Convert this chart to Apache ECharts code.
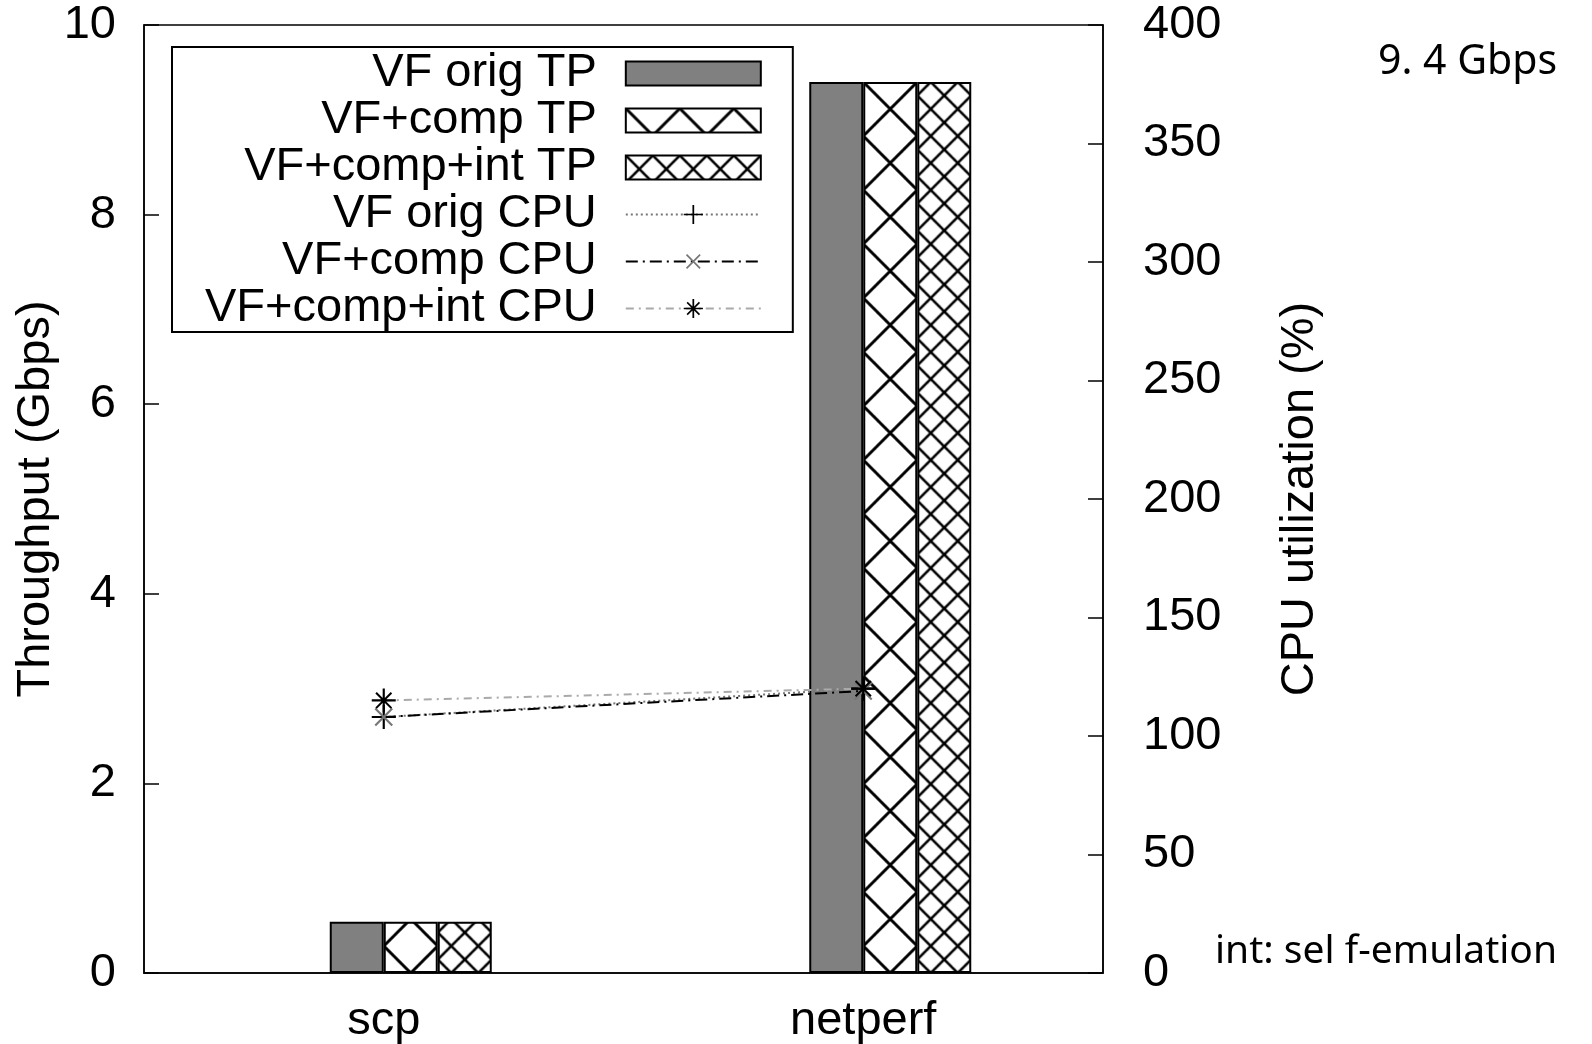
<!DOCTYPE html>
<html>
<head>
<meta charset="utf-8">
<script src="https://cdn.jsdelivr.net/npm/echarts@6/dist/echarts.min.js"></script>
<style>
html, body { margin: 0; padding: 0; background: #fff; }
#chart { width: 1592px; height: 1044px; }
</style>
</head>
<body>
<div id="chart"></div>
<script>
// x categories
var categories = ['scp', 'netperf'];

// throughput (Gbps), left axis
var origTP = [0.54, 9.4];
var compTP = [0.54, 9.4];
var compIntTP = [0.54, 9.4];

// CPU utilization (%), right axis
var origCPU = [108, 120];
var compCPU = [108, 119];
var compIntCPU = [115, 120];

// axis ranges
var tpAxis = {min: 0, max: 10, interval: 2};
var cpuAxis = {min: 0, max: 400, interval: 50};

var names = ['VF orig TP', 'VF+comp TP', 'VF+comp+int TP',
    'VF orig CPU', 'VF+comp CPU', 'VF+comp+int CPU'];

var FONT = '"Liberation Sans", Arial, sans-serif';
var BAR_W = 54;

// diagonal cross-hatch tile, like the gnuplot fill patterns
function hatch(size, lw)
{
    var c = document.createElement('canvas');
    c.width = size;
    c.height = size;
    var ctx = c.getContext('2d');
    ctx.fillStyle = '#fff';
    ctx.fillRect(0, 0, size, size);
    ctx.strokeStyle = '#000';
    ctx.lineWidth = lw;
    ctx.beginPath();
    for (var k = -1; k <= 1; k++)
    {
        ctx.moveTo(k * size, 0);
        ctx.lineTo(k * size + size, size);
        ctx.moveTo(k * size + size, 0);
        ctx.lineTo(k * size, size);
    }
    ctx.stroke();
    return c;
}

var img2 = hatch(BAR_W, 3);
var img3 = hatch(BAR_W / 2, 2.6);

var PLUS = 'path://M4.55,0H5.45V10H4.55ZM0,4.55H10V5.45H0Z';
var STAR = 'path://M4.55,0H5.45V10H4.55ZM0,4.55H10V5.45H0Z' +
    'M2.1,1.5L8.5,7.9L7.9,8.5L1.5,2.1ZM7.9,1.5L8.5,2.1L2.1,8.5L1.5,7.9Z';

var chart = echarts.init(document.getElementById('chart'));

var option = {
    animation: false,
    backgroundColor: '#fff',
    textStyle: {fontFamily: FONT, color: '#000'},
    grid: {
        left: 144, right: 489, top: 25, bottom: 71,
        outerBoundsMode: 'none',
        show: true, borderColor: '#000', borderWidth: 1.5,
        backgroundColor: 'transparent'
    },
    legend: {
        orient: 'vertical',
        left: 172, top: 47,
        align: 'right',
        selectedMode: false,
        itemWidth: 135, itemHeight: 24, itemGap: 0,
        padding: [3, 31, 0, 33],
        borderColor: '#000', borderWidth: 2,
        backgroundColor: '#fff',
        textStyle: {fontFamily: FONT, fontSize: 47, color: '#000', lineHeight: 47, padding: [0, 24, 0, 0]},
        data: [
            {name: names[0], icon: 'rect'},
            {name: names[1], icon: 'rect'},
            {name: names[2], icon: 'rect'},
            {name: names[3]},
            {name: names[4]},
            {name: names[5]}
        ]
    },
    xAxis: {
        type: 'category',
        data: categories,
        boundaryGap: true,
        axisLine: {lineStyle: {color: '#000', width: 1.5}},
        axisTick: {show: false},
        axisLabel: {fontFamily: FONT, fontSize: 47, color: '#000', margin: 25}
    },
    yAxis: [
        {
            type: 'value',
            min: tpAxis.min, max: tpAxis.max, interval: tpAxis.interval,
            name: 'Throughput (Gbps)',
            nameLocation: 'middle',
            nameGap: 84,
            nameMoveOverlap: false,
            nameTextStyle: {fontFamily: FONT, fontSize: 47, color: '#000'},
            axisLine: {show: true, lineStyle: {color: '#000', width: 1.5}},
            axisTick: {show: true, inside: true, length: 15, lineStyle: {color: '#000', width: 1.5}},
            axisLabel: {fontFamily: FONT, fontSize: 47, color: '#000', margin: 28},
            splitLine: {show: false}
        },
        {
            type: 'value',
            position: 'right',
            min: cpuAxis.min, max: cpuAxis.max, interval: cpuAxis.interval,
            name: 'CPU utilization (%)',
            nameLocation: 'middle',
            nameGap: 174,
            nameRotate: 90,
            nameMoveOverlap: false,
            nameTextStyle: {fontFamily: FONT, fontSize: 47, color: '#000'},
            axisLine: {show: true, lineStyle: {color: '#000', width: 1.5}},
            axisTick: {show: true, inside: true, length: 15, lineStyle: {color: '#000', width: 1.5}},
            axisLabel: {fontFamily: FONT, fontSize: 47, color: '#000', margin: 40},
            splitLine: {show: false}
        }
    ],
    series: [
        {
            // empty slot so the three bars start at the category centre
            id: 'pad', name: '_pad', type: 'bar', data: [],
            barWidth: BAR_W, barGap: '0%'
        },
        {
            id: 'origTP', name: names[0], type: 'bar', data: origTP,
            barWidth: BAR_W, barGap: '0%',
            itemStyle: {color: '#808080', borderColor: '#000', borderWidth: 2}
        },
        {
            id: 'compTP', name: names[1], type: 'bar', data: compTP,
            barWidth: BAR_W, barGap: '0%',
            itemStyle: {color: {image: img2, repeat: 'repeat'}, borderColor: '#000', borderWidth: 2}
        },
        {
            id: 'compIntTP', name: names[2], type: 'bar', data: compIntTP,
            barWidth: BAR_W, barGap: '0%',
            itemStyle: {color: {image: img3, repeat: 'repeat'}, borderColor: '#000', borderWidth: 2}
        },
        {
            id: 'origCPU', name: names[3], type: 'line', yAxisIndex: 1, data: origCPU,
            symbol: PLUS, symbolSize: 24,
            itemStyle: {color: '#000'},
            lineStyle: {color: '#777', width: 2, type: [2, 3]}
        },
        {
            id: 'compCPU', name: names[4], type: 'line', yAxisIndex: 1, data: compCPU,
            symbol: PLUS, symbolSize: 24, symbolRotate: 45,
            itemStyle: {color: '#777'},
            lineStyle: {color: '#000', width: 2, type: [12, 5, 2, 5]}
        },
        {
            id: 'compIntCPU', name: names[5], type: 'line', yAxisIndex: 1, data: compIntCPU,
            symbol: STAR, symbolSize: 24,
            itemStyle: {color: '#000'},
            lineStyle: {color: '#aaa', width: 2, type: [8, 5, 2, 5]}
        }
    ],
    graphic: [
        {
            type: 'text', x: 1378, y: 62,
            style: {text: '9. 4 Gbps', font: '41px "Noto Sans", sans-serif', fill: '#000', align: 'left', verticalAlign: 'middle'}
        },
        {
            type: 'text', x: 1215, y: 952,
            style: {text: 'int: sel f-emulation', font: '39px "Noto Sans", sans-serif', fill: '#000', align: 'left', verticalAlign: 'middle'}
        }
    ]
};

chart.setOption(option);

// align the hatch tiles to each bar's own edge
var base = chart.convertToPixel({yAxisIndex: 0}, 0);
var items2 = [];
var items3 = [];
for (var i = 0; i < categories.length; i++)
{
    var cx = chart.convertToPixel({xAxisIndex: 0}, categories[i]);
    items2.push({
        value: compTP[i],
        itemStyle: {color: {image: img2, repeat: 'repeat', x: cx, y: base - BAR_W / 2}}
    });
    items3.push({
        value: compIntTP[i],
        itemStyle: {color: {image: img3, repeat: 'repeat', x: cx + BAR_W, y: base - BAR_W / 4}}
    });
}
chart.setOption({
    series: [
        {id: 'compTP', data: items2},
        {id: 'compIntTP', data: items3}
    ]
});
</script>
</body>
</html>
